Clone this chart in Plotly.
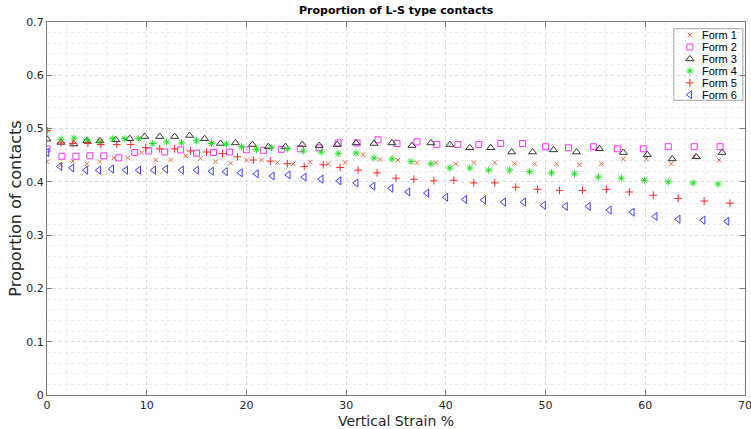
import plotly.graph_objects as go

# ---------------- data ----------------
series_names = ["Form 1", "Form 2", "Form 3", "Form 4", "Form 5", "Form 6"]

form1_x = [0, 1.4, 2.6, 4.0, 5.3, 6.7, 8.1, 9.5, 10.9, 12.4, 13.9, 15.4, 16.9, 18.4, 20.0,
           21.5, 23.1, 24.7, 26.4, 28.2, 29.9, 31.7, 33.4, 35.2, 37.1, 39.0, 41.0, 42.8, 44.9,
           46.9, 48.9, 51.1, 53.4, 55.6, 57.8, 60.1, 62.6, 64.9, 67.4]
form1_y = [0.438, 0.432, 0.439, 0.434, 0.438, 0.445, 0.445, 0.455, 0.441, 0.441, 0.449, 0.444,
           0.438, 0.435, 0.441, 0.441, 0.436, 0.434, 0.437, 0.434, 0.436, 0.451, 0.442, 0.441,
           0.436, 0.436, 0.434, 0.436, 0.436, 0.434, 0.434, 0.434, 0.432, 0.434, 0.443, 0.443,
           0.434, 0.447, 0.441]

form2_x = [0, 1.5, 2.9, 4.3, 5.7, 7.2, 8.8, 10.2, 11.8, 13.4, 15.0, 16.7, 18.3, 20.0, 21.7,
           23.5, 25.4, 27.3, 29.2, 31.1, 33.2, 35.1, 37.1, 39.1, 41.2, 43.3, 45.5, 47.7, 50.0,
           52.3, 54.8, 57.2, 59.8, 62.3, 64.9, 67.5]
form2_y = [0.462, 0.448, 0.448, 0.449, 0.449, 0.445, 0.455, 0.458, 0.456, 0.460, 0.454, 0.455,
           0.456, 0.460, 0.459, 0.461, 0.462, 0.464, 0.473, 0.473, 0.479, 0.472, 0.475, 0.470,
           0.470, 0.470, 0.472, 0.472, 0.466, 0.464, 0.466, 0.462, 0.462, 0.466, 0.466, 0.466]

form3_x = [0, 1.4, 2.7, 4.0, 5.3, 6.9, 8.3, 9.8, 11.3, 12.8, 14.3, 15.8, 17.4, 18.9, 20.6,
           22.2, 23.9, 25.6, 27.3, 29.1, 31.0, 32.8, 34.6, 36.6, 38.5, 40.4, 42.4, 44.5, 46.6,
           48.7, 50.8, 53.1, 55.4, 57.8, 60.2, 62.7, 65.1, 67.7]
form3_y = [0.480, 0.474, 0.471, 0.477, 0.477, 0.479, 0.481, 0.485, 0.485, 0.485, 0.487, 0.481,
           0.472, 0.473, 0.470, 0.466, 0.466, 0.470, 0.468, 0.470, 0.473, 0.472, 0.473, 0.468,
           0.473, 0.470, 0.464, 0.464, 0.456, 0.456, 0.460, 0.456, 0.462, 0.455, 0.451, 0.443,
           0.447, 0.455]

form4_x = [0, 1.4, 2.7, 4.0, 5.3, 6.6, 7.8, 9.2, 10.6, 12.0, 13.5, 15.0, 16.5, 18.0, 19.5,
           21.0, 22.5, 24.1, 25.7, 27.5, 29.2, 31.0, 32.8, 34.6, 36.5, 38.5, 40.4, 42.4, 44.3,
           46.4, 48.4, 50.6, 52.9, 55.3, 57.6, 59.9, 62.3, 64.8, 67.3]
form4_y = [0.497, 0.480, 0.482, 0.479, 0.475, 0.481, 0.481, 0.481, 0.472, 0.475, 0.473, 0.477,
           0.472, 0.471, 0.466, 0.461, 0.464, 0.462, 0.458, 0.456, 0.453, 0.454, 0.445, 0.443,
           0.438, 0.434, 0.426, 0.426, 0.422, 0.422, 0.419, 0.417, 0.415, 0.409, 0.407, 0.403,
           0.400, 0.398, 0.396]

form5_x = [0, 1.4, 2.6, 4.1, 5.4, 7.0, 8.4, 9.9, 11.3, 12.8, 14.4, 16.0, 17.6, 19.1, 20.7,
           22.4, 24.1, 25.8, 27.7, 29.4, 31.2, 33.1, 35.0, 36.8, 38.8, 40.8, 42.8, 44.9, 47.0,
           49.2, 51.4, 53.7, 56.1, 58.4, 60.8, 63.3, 65.9, 68.5]
form5_y = [0.496, 0.473, 0.472, 0.472, 0.470, 0.470, 0.470, 0.464, 0.462, 0.462, 0.458, 0.456,
           0.453, 0.447, 0.441, 0.439, 0.434, 0.429, 0.432, 0.427, 0.422, 0.417, 0.407, 0.405,
           0.402, 0.403, 0.398, 0.398, 0.390, 0.386, 0.384, 0.384, 0.386, 0.381, 0.375, 0.369,
           0.364, 0.360]

form6_x = [0, 1.3, 2.5, 3.9, 5.2, 6.5, 7.9, 9.2, 10.7, 11.9, 13.5, 15.0, 16.5, 17.9, 19.4,
           21.0, 22.6, 24.2, 25.8, 27.5, 29.3, 31.0, 32.7, 34.5, 36.2, 38.1, 40.0, 41.9, 43.8,
           45.8, 47.8, 49.8, 52.0, 54.3, 56.4, 58.7, 61.0, 63.3, 65.8, 68.2]
form6_y = [0.455, 0.429, 0.426, 0.422, 0.422, 0.424, 0.422, 0.422, 0.422, 0.424, 0.422, 0.422,
           0.420, 0.419, 0.417, 0.415, 0.411, 0.413, 0.409, 0.405, 0.402, 0.398, 0.392, 0.388,
           0.381, 0.379, 0.371, 0.367, 0.366, 0.362, 0.362, 0.356, 0.354, 0.354, 0.347, 0.343,
           0.335, 0.330, 0.328, 0.326]

x_ticks = [0, 10, 20, 30, 40, 50, 60, 70]
y_ticks = [0, 0.1, 0.2, 0.3, 0.4, 0.5, 0.6, 0.7]
y_tick_labels = ["0", "0.1", "0.2", "0.3", "0.4", "0.5", "0.6", "0.7"]

# ---------------- style ----------------
xs = [form1_x, form2_x, form3_x, form4_x, form5_x, form6_x]
ys = [form1_y, form2_y, form3_y, form4_y, form5_y, form6_y]
colors = ["#E8683F", "#FF33FF", "#333333", "#1FE01F", "#FF2828", "#3F3FF5"]
symbols = ["x-thin-open", "square-open", "triangle-up-open", "asterisk-open",
           "cross-thin-open", "triangle-left-open"]
sizes = [4.5, 6, 7, 6, 5.5, 7]

fig = go.Figure()
for name, x, y, c, s, sz in zip(series_names, xs, ys, colors, symbols, sizes):
    fig.add_trace(go.Scatter(
        x=x, y=y, mode="markers", name=name, showlegend=False,
        marker=dict(symbol=s, size=sz, color=c, line=dict(color=c, width=1)),
    ))

# custom compact legend (MATLAB-like), drawn on an overlay axis in [0,1] units
leg_x0, leg_x1, leg_y0, leg_y1 = 0.898, 0.997, 0.79, 0.982
leg_mx, leg_tx = 0.921, 0.936
leg_rows = [0.965, 0.933, 0.901, 0.869, 0.837, 0.805]
fig.add_shape(type="rect", xref="paper", yref="paper",
              x0=leg_x0, x1=leg_x1, y0=leg_y0, y1=leg_y1,
              line=dict(color="#a0a0a0", width=1), fillcolor="white", layer="between")
for i, (name, c, s, sz) in enumerate(zip(series_names, colors, symbols, sizes)):
    fig.add_trace(go.Scatter(
        x=[leg_mx], y=[leg_rows[i]], xaxis="x2", yaxis="y2", mode="markers",
        showlegend=False, hoverinfo="skip",
        marker=dict(symbol=s, size=sz, color=c, line=dict(color=c, width=1)),
    ))
    fig.add_annotation(x=leg_tx, y=leg_rows[i], xref="paper", yref="paper",
                       text=name, showarrow=False, xanchor="left", yanchor="middle",
                       font=dict(family="Liberation Sans", size=11, color="#000"))

grid_major = "#d9d9d9"
grid_minor = "#ececec"
axis_col = "#7a7a7a"

fig.update_layout(
    width=751, height=429,
    margin=dict(l=47, r=6, t=22, b=34),
    paper_bgcolor="white", plot_bgcolor="white",
    title=dict(text="<b>Proportion of L-S type contacts</b>", x=0.5275, xanchor="center",
               y=0.977, yanchor="middle",
               font=dict(family="DejaVu Sans", size=11, color="#000")),
    font=dict(family="DejaVu Sans", size=11, color="#262626"),
    xaxis=dict(
        range=[0, 70], tickvals=x_ticks, ticks="inside", ticklen=5, tickcolor=axis_col,
        showline=True, linecolor=axis_col, linewidth=1, mirror="ticks",
        showgrid=True, gridcolor=grid_major, griddash="dot", gridwidth=1,
        minor=dict(dtick=2, showgrid=True, gridcolor=grid_minor, griddash="dot", ticks=""),
        zeroline=False, automargin=False, ticklabeloverflow="allow",
        tickfont=dict(family="DejaVu Sans", size=11, color="#262626"),
        title=dict(text="Vertical Strain %", standoff=6,
                   font=dict(family="DejaVu Sans", size=14, color="#262626")),
    ),
    yaxis=dict(
        range=[0, 0.7], tickvals=y_ticks, ticktext=y_tick_labels, ticks="inside", ticklen=5,
        tickcolor=axis_col,
        showline=True, linecolor=axis_col, linewidth=1, mirror="ticks",
        showgrid=True, gridcolor=grid_major, griddash="dot", gridwidth=1,
        minor=dict(dtick=0.02, showgrid=True, gridcolor=grid_minor, griddash="dot", ticks=""),
        zeroline=False, automargin=False, ticklabeloverflow="allow",
        tickfont=dict(family="DejaVu Sans", size=11, color="#262626"),
        title=dict(text="Proportion of contacts", standoff=0,
                   font=dict(family="DejaVu Sans", size=16, color="#262626")),
    ),
    xaxis2=dict(overlaying="x", range=[0, 1], visible=False, fixedrange=True),
    yaxis2=dict(overlaying="y", range=[0, 1], visible=False, fixedrange=True),
)

fig.write_html("out.html", config={"displayModeBar": False},
               post_script="document.body.style.margin='0';")
